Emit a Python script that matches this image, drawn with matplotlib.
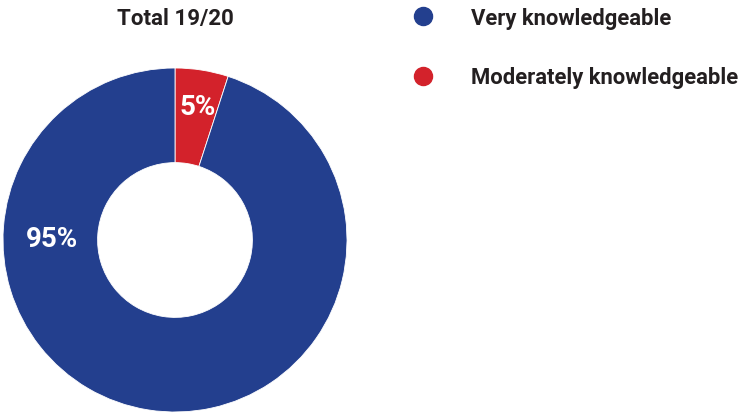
import matplotlib.pyplot as plt
from matplotlib.lines import Line2D

categories = ['Moderately knowledgeable', 'Very knowledgeable']
values = [5, 95]
colors = ['#D3222B', '#233F8E']
title = 'Total 19/20'

plt.rcParams['font.family'] = ['Roboto', 'DejaVu Sans']
text_color = '#231F20'

W, H = 738, 414
fig = plt.figure(figsize=(W / 100, H / 100), dpi=100)

# donut axes, center (175, 241) px, radius 172 px
cx, cy, r = 175, 241, 172
ax = fig.add_axes([(cx - r) / W, (H - cy - r) / H, 2 * r / W, 2 * r / H])
wedges, _ = ax.pie(values, colors=colors, startangle=90, counterclock=False,
                   radius=1, wedgeprops=dict(width=0.55, edgecolor='white', linewidth=0.6))
ax.set_xlim(-1, 1)
ax.set_ylim(-1, 1)
ax.set_aspect('equal')
ax.axis('off')

# percentage labels
ax.text(0.13, 0.775, f'{values[0]}%', color='white', fontsize=20, fontweight='bold',
        ha='center', va='center')
ax.text(-0.715, 0.01, f'{values[1]}%', color='white', fontsize=20, fontweight='bold',
        ha='center', va='center')

fig.text(cx / W, 1 - 19 / H, title, color=text_color, fontsize=16, fontweight='bold',
         ha='center', va='center')

# legend (blue first)
handles = [Line2D([], [], marker='o', linestyle='none', markersize=13,
                  markerfacecolor=colors[i], markeredgecolor=colors[i])
           for i in (1, 0)]
labels = [categories[1], categories[0]]
leg = fig.legend(handles, labels, loc='upper left', bbox_to_anchor=(411 / W, 1 - 8 / H),
                 frameon=False, fontsize=15.8, handlelength=1.05, handletextpad=1.7,
                 labelspacing=1.7, borderpad=0, borderaxespad=0)
for t in leg.get_texts():
    t.set_color(text_color)
    t.set_fontweight('bold')

fig.savefig('out.png', dpi=100)
